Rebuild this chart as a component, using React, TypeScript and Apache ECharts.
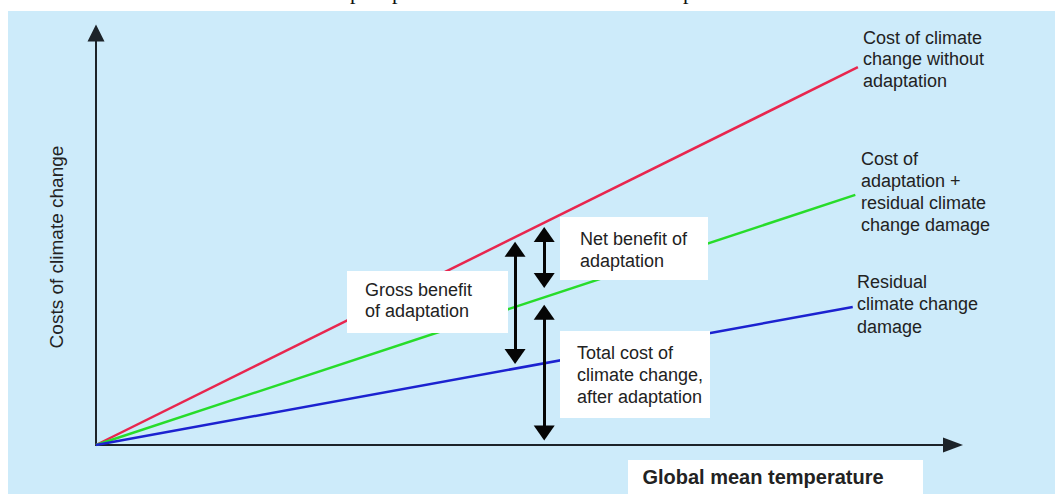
import React, { useEffect, useRef } from "react";
import * as echarts from "echarts";

// ---- data (arbitrary units 0..10 on both axes) ----
const axisRange = [0, 10];
const costWithoutAdaptation = [[0, 0], [8.89, 9.17]];
const adaptationPlusResidual = [[0, 0], [8.86, 6.07]];
const residualDamage = [[0, 0], [8.83, 3.35]];
// double arrows: [x, upper end, lower end]
const grossBenefitSpan = [4.89, 4.75, 2.15];
const netBenefitSpan = [5.23, 5.11, 3.99];
const totalCostSpan = [5.23, 3.22, 0.29];

const seriesNames = [
  "Cost of climate change without adaptation",
  "Cost of adaptation + residual climate change damage",
  "Residual climate change damage",
];
const rightLabels = [
  "Cost of climate\nchange without\nadaptation",
  "Cost of\nadaptation +\nresidual climate\nchange damage",
  "Residual\nclimate change\ndamage",
];
const boxLabels = [
  "Gross benefit\nof adaptation",
  "Net benefit of\nadaptation",
  "Total cost of\nclimate change,\nafter adaptation",
];
const yAxisTitle = "Costs of climate change";
const xAxisTitle = "Global mean temperature";

const FONT = "'Liberation Sans', Arial, sans-serif";
const TEXT = "#222";
const HEAD = [21, 15];

export default function App() {
  const ref = useRef<HTMLDivElement>(null);
  useEffect(() => {
    if (!ref.current) return;
    const chart = echarts.init(ref.current, undefined, { renderer: "svg" });
    const arrowLine = (s: number[]) => [
      { coord: [s[0], s[1]], symbol: "triangle", symbolSize: HEAD },
      { coord: [s[0], s[2]], symbol: "triangle", symbolSize: HEAD },
    ];
    const lbl = (text: string, x: number, y: number, lh: number) => ({
      type: "text",
      z: 20,
      silent: true,
      style: {
        text,
        x,
        y,
        fontSize: 18,
        fontFamily: FONT,
        fill: TEXT,
        lineHeight: lh,
        align: "left",
        verticalAlign: "top",
      },
    });
    const box = (x: number, y: number, w: number, h: number) => ({
      type: "rect",
      z: 15,
      silent: true,
      shape: { x, y, width: w, height: h },
      style: { fill: "#ffffff" },
    });
    const pFrag = (x: number) => ({
      type: "text",
      z: 20,
      silent: true,
      style: {
        text: "p",
        x,
        y: -8.3,
        fontSize: 22,
        fontFamily: "'Liberation Serif', 'Times New Roman', serif",
        fill: "#111",
        verticalAlign: "middle",
        align: "left",
      },
    });
    const option: any = {
      animation: false,
      backgroundColor: "#ffffff",
      grid: { left: 96, right: 102, top: 33, bottom: 49 },
      xAxis: {
        type: "value",
        min: axisRange[0],
        max: axisRange[1],
        axisLine: {
          show: true,
          onZero: false,
          symbol: ["none", "triangle"],
          symbolSize: [15, 20],
          lineStyle: { color: "#1c2329", width: 2 },
        },
        axisTick: { show: false },
        axisLabel: { show: false },
        splitLine: { show: false },
      },
      yAxis: {
        type: "value",
        min: axisRange[0],
        max: axisRange[1],
        axisLine: {
          show: true,
          onZero: false,
          symbol: ["none", "triangle"],
          symbolSize: [17, 17],
          lineStyle: { color: "#1c2329", width: 2 },
        },
        axisTick: { show: false },
        axisLabel: { show: false },
        splitLine: { show: false },
        name: yAxisTitle,
        nameLocation: "middle",
        nameRotate: 90,
        nameGap: 30,
        nameTextStyle: {
          fontFamily: FONT,
          fontSize: 19,
          color: TEXT,
          padding: [0, 16, 0, 0],
        },
      },
      graphic: [
        {
          type: "rect",
          z: -10,
          silent: true,
          shape: { x: 8, y: 11, width: 1047, height: 483 },
          style: { fill: "#cdebfa" },
        },
        pFrag(350),
        pFrag(392),
        pFrag(683),
        box(347, 271, 161, 62),
        box(560, 217, 148, 63),
        box(560, 331, 150, 87),
        box(628, 460, 295, 34),
        lbl(boxLabels[0], 365, 279, 21.5),
        lbl(boxLabels[1], 580, 228, 22),
        lbl(boxLabels[2], 577, 342, 22),
        lbl(rightLabels[0], 863, 27, 21.5),
        lbl(rightLabels[1], 861, 148, 22),
        lbl(rightLabels[2], 857, 270.5, 22.5),
        {
          type: "text",
          z: 20,
          silent: true,
          style: {
            text: xAxisTitle,
            x: 763,
            y: 477,
            fontSize: 20,
            fontWeight: "bold",
            fontFamily: FONT,
            fill: TEXT,
            align: "center",
            verticalAlign: "middle",
          },
        },
      ],
      series: [
        {
          name: seriesNames[0],
          type: "line",
          data: costWithoutAdaptation,
          symbol: "none",
          silent: true,
          lineStyle: { color: "#e8264e", width: 2.5 },
        },
        {
          name: seriesNames[1],
          type: "line",
          data: adaptationPlusResidual,
          symbol: "none",
          silent: true,
          lineStyle: { color: "#27dc2a", width: 2.5 },
        },
        {
          name: seriesNames[2],
          type: "line",
          data: residualDamage,
          symbol: "none",
          silent: true,
          lineStyle: { color: "#1c22d0", width: 2.5 },
          markLine: {
            silent: true,
            symbol: ["triangle", "triangle"],
            symbolSize: HEAD,
            label: { show: false },
            lineStyle: { color: "#050505", width: 3, type: "solid" },
            itemStyle: { color: "#050505" },
            emphasis: { disabled: true },
            z: 25,
            data: [
              arrowLine(grossBenefitSpan),
              arrowLine(netBenefitSpan),
              arrowLine(totalCostSpan),
            ],
          },
        },
      ],
    };
    chart.setOption(option);
    return () => chart.dispose();
  }, []);
  return (
    <div
      ref={ref}
      style={{ position: "fixed", left: 0, top: 0, width: 1055, height: 494 }}
    />
  );
}
